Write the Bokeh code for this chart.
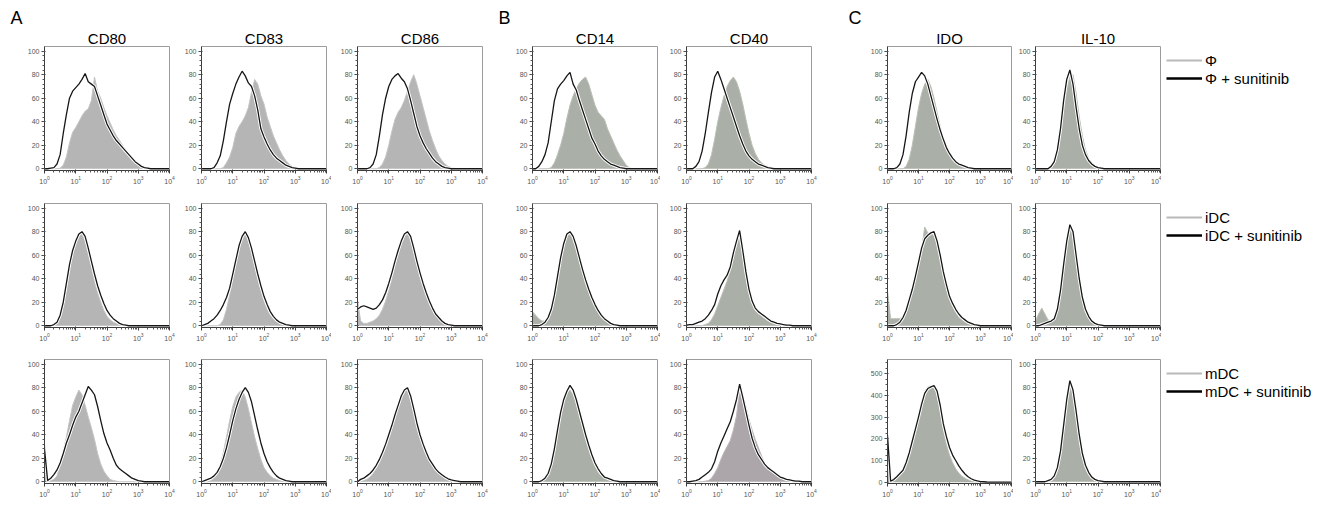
from bokeh.plotting import figure
from bokeh.layouts import row, column
from bokeh.models import (FixedTicker, Legend, LegendItem, Range1d, Title,
                          ColumnDataSource)
from bokeh.embed import file_html
from bokeh.resources import INLINE

# ---------------- data ----------------
# channel positions (log10 of fluorescence intensity)
decades = [0.0, 0.1, 0.2, 0.3, 0.4, 0.5, 0.6, 0.7, 0.8, 0.9,
           1.0, 1.1, 1.2, 1.3, 1.4, 1.5, 1.6, 1.7, 1.8, 1.9,
           2.0, 2.1, 2.2, 2.3, 2.4, 2.5, 2.6, 2.7, 2.8, 2.9,
           3.0, 3.1, 3.2, 3.3, 3.4, 3.5, 3.6, 3.7, 3.8, 3.9,
           4.0]

markers = ["CD80", "CD83", "CD86", "CD14", "CD40", "IDO", "IL-10"]
ctrl_labels = ["\u03a6", "iDC", "mDC"]
sun_labels = ["\u03a6 + sunitinib", "iDC + sunitinib", "mDC + sunitinib"]
block_letters = {"CD80": "A", "CD14": "B", "IDO": "C"}

# --- row 1 : macrophage-like (Phi) ---
cd80_phi = [0, 0, 0, 0, 0, 0.5, 3, 10, 22, 31,
            35, 40, 45, 49, 51, 58, 78, 66, 60, 52,
            45, 39, 33, 28, 24, 20, 16, 12, 8, 5,
            3, 1, 0.5, 0, 0, 0, 0, 0, 0, 0,
            0]
cd80_phi_sun = [0, 0, 0.5, 1, 4, 12, 30, 46, 60, 66,
                69, 72, 76, 81, 74, 72, 70, 62, 54, 46,
                38, 33, 28, 24, 21, 18, 15, 12, 9, 6,
                4, 2, 1, 0.5, 0, 0, 0, 0, 0, 0,
                0]
cd83_phi = [0, 0, 0, 0, 0, 0, 0, 1, 5, 10,
            18, 30, 36, 40, 45, 52, 65, 76, 72, 62,
            55, 44, 36, 28, 22, 16, 11, 7, 4, 2,
            1, 0.5, 0, 0, 0, 0, 0, 0, 0, 0,
            0]
cd83_phi_sun = [0, 0, 0, 0, 1, 5, 11, 24, 40, 55,
                64, 72, 78, 83, 79, 73, 70, 62, 50, 34,
                27, 21, 16, 12, 9, 7, 5, 3, 2, 1,
                0.5, 0, 0, 0, 0, 0, 0, 0, 0, 0,
                0]
cd86_phi = [0, 0, 0, 0, 0, 0, 0, 1, 4, 10,
            20, 32, 42, 48, 52, 58, 66, 74, 80, 72,
            62, 52, 42, 32, 24, 17, 11, 7, 4, 2,
            1, 0.5, 0, 0, 0, 0, 0, 0, 0, 0,
            0]
cd86_phi_sun = [0, 0, 0, 0, 1, 4, 12, 28, 46, 60,
                70, 76, 79, 81, 77, 74, 68, 58, 47, 36,
                28, 22, 17, 13, 9, 6, 4, 2, 1, 0.5,
                0, 0, 0, 0, 0, 0, 0, 0, 0, 0,
                0]
cd14_phi = [0, 0, 0, 0, 0, 0, 1, 5, 12, 20,
            30, 43, 54, 62, 68, 73, 76, 78, 72, 63,
            54, 48, 45, 42, 34, 28, 22, 16, 11, 7,
            3, 1, 0, 0, 0, 0, 0, 0, 0, 0,
            0]
cd14_phi_sun = [0, 0, 2, 6, 12, 22, 40, 58, 68, 72,
                75, 79, 82, 72, 67, 58, 50, 42, 34, 26,
                21, 15, 11, 8, 6, 4, 3, 2, 1, 0.5,
                0, 0, 0, 0, 0, 0, 0, 0, 0, 0,
                0]
cd40_phi = [0, 0, 0, 0, 0, 0, 1, 4, 12, 25,
            40, 52, 62, 70, 75, 78, 74, 66, 55, 42,
            30, 20, 13, 8, 5, 3, 2, 1, 0.5, 0,
            0, 0, 0, 0, 0, 0, 0, 0, 0, 0,
            0]
cd40_phi_sun = [0, 0, 0, 2, 6, 15, 30, 48, 65, 78,
                83, 76, 68, 60, 52, 44, 36, 28, 21, 15,
                11, 8, 6, 4, 3, 2, 1, 0.5, 0, 0,
                0, 0, 0, 0, 0, 0, 0, 0, 0, 0,
                0]
ido_phi = [0, 0, 0, 0, 0, 0, 2, 8, 20, 36,
           52, 64, 72, 76, 70, 60, 48, 36, 26, 18,
           12, 8, 5, 3, 2, 1, 0.5, 0, 0, 0,
           0, 0, 0, 0, 0, 0, 0, 0, 0, 0,
           0]
ido_phi_sun = [0, 0, 0, 1, 4, 12, 28, 48, 64, 74,
               78, 82, 79, 72, 62, 52, 42, 33, 25, 18,
               13, 9, 6, 4, 3, 2, 1, 0.5, 0, 0,
               0, 0, 0, 0, 0, 0, 0, 0, 0, 0,
               0]
il10_phi = [0, 0, 0, 0, 0, 1, 4, 12, 28, 50,
            68, 78, 80, 64, 44, 28, 16, 9, 5, 3,
            1.5, 0.5, 0, 0, 0, 0, 0, 0, 0, 0,
            0, 0, 0, 0, 0, 0, 0, 0, 0, 0,
            0]
il10_phi_sun = [0, 0, 0, 0, 0, 2, 6, 16, 34, 58,
                76, 84, 72, 52, 34, 20, 12, 7, 4, 2,
                1, 0.5, 0, 0, 0, 0, 0, 0, 0, 0,
                0, 0, 0, 0, 0, 0, 0, 0, 0, 0,
                0]

# --- row 2 : immature DC ---
cd80_idc = [0, 0, 0, 1, 4, 10, 22, 38, 54, 66,
            74, 77, 78, 72, 62, 50, 38, 28, 20, 13,
            8, 5, 3, 2, 1, 0.5, 0, 0, 0, 0,
            0, 0, 0, 0, 0, 0, 0, 0, 0, 0,
            0]
cd80_idc_sun = [0, 0, 0, 1, 3, 9, 20, 36, 52, 64,
                72, 78, 80, 76, 66, 55, 44, 34, 26, 19,
                13, 9, 6, 4, 2, 1, 0.5, 0, 0, 0,
                0, 0, 0, 0, 0, 0, 0, 0, 0, 0,
                0]
cd83_idc = [0, 0, 0, 0, 0, 0, 1, 5, 14, 26,
            40, 54, 66, 74, 79, 74, 64, 52, 40, 30,
            21, 14, 9, 6, 4, 2, 1, 0.5, 0, 0,
            0, 0, 0, 0, 0, 0, 0, 0, 0, 0,
            0]
cd83_idc_sun = [0, 1, 2, 4, 6, 9, 13, 18, 24, 32,
                44, 56, 68, 76, 80, 75, 66, 55, 44, 34,
                25, 18, 12, 8, 5, 3, 2, 1, 0.5, 0,
                0, 0, 0, 0, 0, 0, 0, 0, 0, 0,
                0]
cd86_idc = [22, 4, 2, 2, 3, 4, 6, 9, 14, 21,
            30, 40, 51, 61, 70, 76, 79, 75, 66, 55,
            44, 35, 27, 20, 14, 9, 6, 3, 2, 1,
            0.5, 0, 0, 0, 0, 0, 0, 0, 0, 0,
            0]
cd86_idc_sun = [14, 16, 17, 16, 15, 14, 15, 18, 22, 28,
                36, 45, 55, 64, 72, 78, 80, 76, 66, 55,
                45, 36, 28, 21, 15, 10, 7, 4, 2, 1,
                0.5, 0, 0, 0, 0, 0, 0, 0, 0, 0,
                0]
cd14_idc = [12, 9, 6, 4, 4, 6, 12, 24, 40, 56,
            68, 76, 78, 74, 66, 56, 46, 37, 29, 22,
            16, 11, 7, 5, 3, 2, 1, 0.5, 0, 0,
            0, 0, 0, 0, 0, 0, 0, 0, 0, 0,
            0]
cd14_idc_sun = [0, 0, 0, 1, 3, 7, 14, 26, 42, 58,
                70, 78, 80, 76, 68, 58, 48, 39, 31, 24,
                18, 13, 9, 6, 4, 2, 1, 0.5, 0, 0,
                0, 0, 0, 0, 0, 0, 0, 0, 0, 0,
                0]
cd40_idc = [0, 0, 0, 0, 0, 0, 1, 2, 5, 10,
            17, 24, 31, 38, 47, 58, 70, 78, 62, 44,
            29, 19, 13, 10, 8, 6, 4, 3, 2, 1,
            0.5, 0, 0, 0, 0, 0, 0, 0, 0, 0,
            0]
cd40_idc_sun = [0.5, 1, 1, 2, 3, 4, 6, 9, 13, 18,
                27, 34, 39, 43, 50, 62, 72, 81, 64, 46,
                31, 21, 15, 12, 10, 8, 6, 4, 3, 2,
                1.5, 1, 0.5, 0.5, 0, 0, 0, 0, 0, 0,
                0]
ido_idc = [30, 6, 6, 6, 6, 8, 13, 21, 30, 41,
           53, 65, 84, 79, 78, 77, 70, 57, 43, 32,
           23, 16, 11, 7, 5, 3, 2, 1, 0.5, 0,
           0, 0, 0, 0, 0, 0, 0, 0, 0, 0,
           0]
ido_idc_sun = [0, 0, 0, 1, 3, 7, 13, 22, 31, 42,
               54, 66, 74, 77, 79, 80, 72, 60, 46, 35,
               25, 19, 14, 10, 7, 5, 3, 2, 1, 0.5,
               0, 0, 0, 0, 0, 0, 0, 0, 0, 0,
               0]
il10_idc = [4, 10, 15, 10, 5, 4, 6, 14, 30, 52,
            72, 82, 78, 58, 38, 22, 13, 7, 4, 2,
            1, 0.5, 0, 0, 0, 0, 0, 0, 0, 0,
            0, 0, 0, 0, 0, 0, 0, 0, 0, 0,
            0]
il10_idc_sun = [0, 0, 1, 2, 3, 4, 6, 14, 30, 52,
                72, 86, 80, 60, 40, 24, 14, 8, 4, 2,
                1, 0.5, 0, 0, 0, 0, 0, 0, 0, 0,
                0, 0, 0, 0, 0, 0, 0, 0, 0, 0,
                0]

# --- row 3 : mature DC ---
cd80_mdc = [32, 2, 1, 2, 5, 14, 26, 38, 52, 65,
            72, 78, 74, 65, 55, 46, 36, 24, 15, 9,
            5, 2, 1, 0.5, 0, 0, 0, 0, 0, 0,
            0, 0, 0, 0, 0, 0, 0, 0, 0, 0,
            0]
cd80_mdc_sun = [28, 1, 3, 6, 10, 16, 24, 33, 40, 48,
                55, 60, 67, 74, 81, 78, 74, 64, 52, 41,
                33, 27, 20, 14, 11, 9, 7, 5, 3, 2,
                1, 0.5, 0, 0, 0, 0, 0, 0, 0, 0,
                0]
cd83_mdc = [0, 0, 0, 1, 3, 7, 14, 25, 38, 52,
            64, 72, 76, 78, 72, 62, 50, 38, 28, 19,
            12, 8, 5, 3, 2, 1, 0.5, 0, 0, 0,
            0, 0, 0, 0, 0, 0, 0, 0, 0, 0,
            0]
cd83_mdc_sun = [0, 1, 2, 3, 5, 8, 13, 20, 29, 40,
                52, 62, 70, 76, 80, 76, 68, 56, 44, 33,
                24, 17, 12, 8, 5, 3, 2, 1, 0.5, 0,
                0, 0, 0, 0, 0, 0, 0, 0, 0, 0,
                0]
cd86_mdc = [0, 0, 1, 2, 4, 7, 11, 16, 22, 29,
            37, 46, 55, 64, 72, 77, 78, 72, 62, 51,
            41, 32, 25, 19, 14, 10, 7, 5, 3, 2,
            1, 0.5, 0, 0, 0, 0, 0, 0, 0, 0,
            0]
cd86_mdc_sun = [0, 2, 3, 5, 7, 10, 14, 19, 25, 32,
                40, 48, 57, 65, 73, 78, 80, 73, 62, 50,
                40, 32, 25, 19, 15, 11, 8, 6, 4, 2.5,
                1.5, 1, 0.5, 0, 0, 0, 0, 0, 0, 0,
                0]
cd14_mdc = [0, 0, 0, 1, 3, 8, 16, 30, 46, 60,
            70, 76, 78, 74, 66, 56, 46, 36, 27, 19,
            13, 8, 5, 3, 2, 1, 0.5, 0, 0, 0,
            0, 0, 0, 0, 0, 0, 0, 0, 0, 0,
            0]
cd14_mdc_sun = [0, 0, 0, 1, 3, 7, 15, 28, 44, 59,
                70, 77, 82, 78, 70, 60, 50, 40, 31, 23,
                16, 11, 7, 4, 3, 2, 1, 0.5, 0, 0,
                0, 0, 0, 0, 0, 0, 0, 0, 0, 0,
                0]
cd40_mdc = [0, 0, 0, 0, 0, 0, 0.5, 1, 3, 7,
            12, 19, 25, 30, 35, 44, 56, 79, 74, 64,
            53, 44, 36, 29, 22, 16, 12, 9, 7, 5,
            3, 2, 1, 0.5, 0, 0, 0, 0, 0, 0,
            0]
cd40_mdc_sun = [0, 0, 0.5, 1, 2, 4, 6, 8, 11, 17,
                26, 33, 39, 45, 51, 60, 70, 83, 72, 60,
                48, 37, 29, 23, 19, 15, 12, 10, 8, 6,
                4, 3, 2, 1.5, 1, 0.5, 0.5, 0, 0, 0,
                0]
ido_mdc = [200, 5, 12, 25, 40, 60, 95, 140, 200, 255,
           310, 370, 420, 440, 445, 440, 400, 330, 240, 175,
           125, 90, 62, 42, 28, 18, 11, 6, 3, 1.5,
           0.5, 0, 0, 0, 0, 0, 0, 0, 0, 0,
           0]
ido_mdc_sun = [215, 5, 12, 25, 40, 55, 90, 135, 190, 245,
               300, 360, 410, 432, 440, 446, 420, 355, 270, 210,
               160, 125, 100, 75, 55, 38, 25, 16, 10, 6,
               3, 2, 1, 0.5, 0, 0, 0, 0, 0, 0,
               0]
il10_mdc = [0, 0, 0, 0, 1, 2, 5, 12, 28, 50,
            70, 80, 76, 58, 38, 22, 12, 6, 3, 1.5,
            1, 0.5, 0, 0, 0, 0, 0, 0, 0, 0,
            0, 0, 0, 0, 0, 0, 0, 0, 0, 0,
            0]
il10_mdc_sun = [0, 0, 0, 0, 1, 2, 5, 12, 26, 48,
                70, 86, 78, 60, 40, 24, 14, 8, 4, 2,
                1, 0.5, 0, 0, 0, 0, 0, 0, 0, 0,
                0, 0, 0, 0, 0, 0, 0, 0, 0, 0,
                0]

series = {
    ("CD80", 0): (cd80_phi, cd80_phi_sun), ("CD83", 0): (cd83_phi, cd83_phi_sun),
    ("CD86", 0): (cd86_phi, cd86_phi_sun), ("CD14", 0): (cd14_phi, cd14_phi_sun),
    ("CD40", 0): (cd40_phi, cd40_phi_sun), ("IDO", 0): (ido_phi, ido_phi_sun),
    ("IL-10", 0): (il10_phi, il10_phi_sun),
    ("CD80", 1): (cd80_idc, cd80_idc_sun), ("CD83", 1): (cd83_idc, cd83_idc_sun),
    ("CD86", 1): (cd86_idc, cd86_idc_sun), ("CD14", 1): (cd14_idc, cd14_idc_sun),
    ("CD40", 1): (cd40_idc, cd40_idc_sun), ("IDO", 1): (ido_idc, ido_idc_sun),
    ("IL-10", 1): (il10_idc, il10_idc_sun),
    ("CD80", 2): (cd80_mdc, cd80_mdc_sun), ("CD83", 2): (cd83_mdc, cd83_mdc_sun),
    ("CD86", 2): (cd86_mdc, cd86_mdc_sun), ("CD14", 2): (cd14_mdc, cd14_mdc_sun),
    ("CD40", 2): (cd40_mdc, cd40_mdc_sun), ("IDO", 2): (ido_mdc, ido_mdc_sun),
    ("IL-10", 2): (il10_mdc, il10_mdc_sun),
}

# ---------------- styling / layout ----------------
FONT = "Liberation Sans"
x_vals = [10 ** d for d in decades]
x_major = [1, 10, 100, 1000, 10000]
x_minor = [m * 10 ** k for k in range(4) for m in range(2, 10)]

FRAME_H = 124
# per column: left border, frame width, right border
col_geom = {
    "CD80": (44, 125, 6), "CD83": (26, 125, 5), "CD86": (26, 125, 13),
    "CD14": (37, 125, 3), "CD40": (26, 125, 20), "IDO": (56, 124, 2),
    "IL-10": (22, 125, 1),
}
LEGEND_W = 163
letter_offset = {"CD80": -34, "CD14": -34, "IDO": -39}
# per row: top border, bottom border
row_geom = [(46, 20), (13, 20), (12, 18)]

FILL_A, EDGE_A = "#b5b5b5", "#c4c4c4"
FILL_BC, EDGE_BC = "#aab0a7", "#bac0b7"
FILL_M40, EDGE_M40 = "#aca6aa", "#bdb7bb"


def make_panel(marker, r):
    left, fw, right = col_geom[marker]
    top, bottom = row_geom[r]
    ctrl, sun = series[(marker, r)]
    if marker == "IDO" and r == 2:
        ylo, yhi = -6, 566
        yt, ym = [0, 100, 200, 300, 400, 500], list(range(0, 551, 25))
    else:
        ylo, yhi = -1.5, 104
        yt, ym = [0, 20, 40, 60, 80, 100], list(range(0, 101, 4))
    if marker in ("CD80", "CD83", "CD86"):
        fill, edge = FILL_A, EDGE_A
    elif marker == "CD40" and r == 2:
        fill, edge = FILL_M40, EDGE_M40
    else:
        fill, edge = FILL_BC, EDGE_BC

    p = figure(width=left + fw + right, height=top + FRAME_H + bottom,
               x_axis_type="log", x_range=Range1d(1, 10000),
               y_range=Range1d(ylo, yhi),
               min_border_left=left, min_border_right=right,
               min_border_top=top, min_border_bottom=bottom,
               toolbar_location=None, output_backend="svg")
    src = ColumnDataSource(dict(x=x_vals, ctrl=ctrl, sun=sun))
    p.varea(x="x", y1=0, y2="ctrl", source=src, fill_color=fill)
    p.line("x", "ctrl", source=src, line_color=edge, line_width=1)
    p.line("x", "sun", source=src, line_color="white", line_width=3.2)
    p.line("x", "sun", source=src, line_color="#161616", line_width=1.3)

    p.xgrid.visible = False
    p.ygrid.visible = False
    p.outline_line_color = "#9c9c9c"
    p.background_fill_color = "white"
    p.border_fill_color = "white"
    p.xaxis.ticker = FixedTicker(ticks=x_major, minor_ticks=x_minor)
    p.yaxis.ticker = FixedTicker(ticks=yt, minor_ticks=ym)
    for ax in (p.xaxis[0], p.yaxis[0]):
        ax.axis_line_color = "#3c3c3c"
        ax.major_tick_line_color = "#3c3c3c"
        ax.minor_tick_line_color = "#555555"
        ax.major_tick_out = 3
        ax.major_tick_in = 1
        ax.minor_tick_out = 2
        ax.minor_tick_in = 0
        ax.major_label_text_font = FONT
        ax.major_label_text_font_size = "7px"
        ax.major_label_text_color = "#555555"
        ax.major_label_standoff = 2

    if r == 0:
        p.add_layout(Title(text=marker, align="center", text_font=FONT,
                           text_font_size="15px", text_font_style="normal",
                           text_color="black", standoff=0), "above")
        if marker in block_letters:
            p.add_layout(Title(text=block_letters[marker], align="left",
                               offset=letter_offset[marker], text_font=FONT,
                               text_font_size="18px", text_font_style="normal",
                               text_color="black", standoff=0), "above")
    return p


def make_legend(r):
    top, bottom = row_geom[r]
    lp = figure(width=LEGEND_W, height=top + FRAME_H + bottom,
                x_range=Range1d(0, 1), y_range=Range1d(0, 1),
                x_axis_type=None, y_axis_type=None,
                min_border_left=0, min_border_right=0,
                min_border_top=top, min_border_bottom=bottom,
                toolbar_location=None, output_backend="svg")
    lp.grid.visible = False
    lp.outline_line_color = None
    # legend keys only: their points lie outside the visible ranges
    r_c = lp.line(x=[5, 6], y=[5, 5], line_color="#b9b9b9", line_width=2)
    r_s = lp.line(x=[5, 6], y=[5, 5], line_color="black", line_width=2.5)
    leg = Legend(items=[LegendItem(label=ctrl_labels[r], renderers=[r_c]),
                        LegendItem(label=sun_labels[r], renderers=[r_s])],
                 location="top_left", margin=5, padding=0, spacing=0,
                 glyph_width=36, glyph_height=18, label_height=18,
                 label_standoff=3, label_text_font=FONT,
                 label_text_font_size="15px", label_text_color="black",
                 border_line_color=None, background_fill_alpha=0)
    lp.add_layout(leg)
    return lp


cols = []
for m in markers:
    cols.append(column(*[make_panel(m, r) for r in range(3)], spacing=0))
cols.append(column(*[make_legend(r) for r in range(3)], spacing=0))
layout = row(*cols, spacing=0)

open("out.html", "w").write(file_html(layout, INLINE))
